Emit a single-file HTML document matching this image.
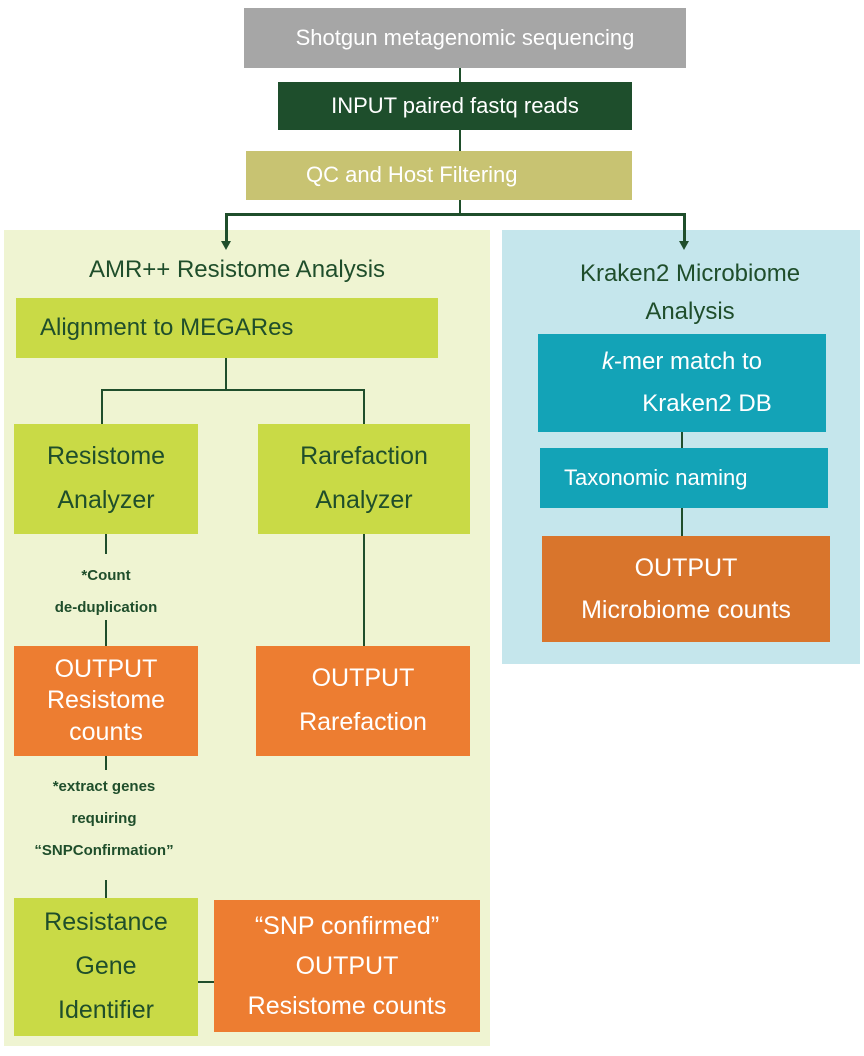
<!DOCTYPE html>
<html><head><meta charset="utf-8"><style>
body{margin:0;width:864px;height:1056px;background:#fff;position:relative;font-family:"Liberation Sans",sans-serif;overflow:hidden}
.b{position:absolute;box-sizing:border-box;display:flex;flex-direction:column;justify-content:center;align-items:center;text-align:center;color:#fff;line-height:1.3}
.l{position:absolute;background:#1f4e2b}
.t{position:absolute;color:#1f4e2b;text-align:center}
.s{position:absolute;color:#1f4e2b;font-weight:bold;font-size:15px;text-align:center}
</style></head><body>
<div style="position:absolute;left:4px;top:230px;width:486px;height:816px;background:#eff4d2"></div>
<div style="position:absolute;left:502px;top:230px;width:358px;height:434px;background:#c5e6ec"></div>

<div class="b" style="left:244px;top:8px;width:442px;height:60px;background:#a6a6a6;font-size:22px">Shotgun metagenomic sequencing</div>
<div class="b" style="left:278px;top:82px;width:354px;height:48px;background:#1e4e2c;font-size:22px">INPUT paired fastq reads</div>
<div class="b" style="left:246px;top:151px;width:386px;height:49px;background:#c8c372;font-size:22px;align-items:flex-start;padding-left:60px">QC and Host Filtering</div>
<div class="l" style="left:459px;top:68px;width:2px;height:14px"></div>
<div class="l" style="left:459px;top:130px;width:2px;height:21px"></div>
<div class="l" style="left:459px;top:200px;width:2px;height:14px"></div>
<div class="l" style="left:225px;top:213px;width:461px;height:3px"></div>
<div class="l" style="left:225px;top:213px;width:3px;height:30px"></div>
<div class="l" style="left:683px;top:213px;width:3px;height:30px"></div>
<div style="position:absolute;left:221px;top:241px;border-left:5px solid transparent;border-right:5px solid transparent;border-top:9px solid #1f4e2b"></div>
<div style="position:absolute;left:679px;top:241px;border-left:5px solid transparent;border-right:5px solid transparent;border-top:9px solid #1f4e2b"></div>

<div class="t" style="left:40px;top:256px;width:394px;font-size:24px">AMR++ Resistome Analysis</div>
<div class="b" style="left:16px;top:298px;width:422px;height:60px;background:#c9da46;color:#1f4e2b;font-size:24px;align-items:flex-start;padding-left:24px">Alignment to MEGARes</div>
<div class="l" style="left:225px;top:358px;width:2px;height:32px"></div>
<div class="l" style="left:101px;top:389px;width:264px;height:2px"></div>
<div class="l" style="left:101px;top:389px;width:2px;height:35px"></div>
<div class="l" style="left:363px;top:389px;width:2px;height:35px"></div>
<div class="b" style="left:14px;top:424px;width:184px;height:110px;background:#c9da46;color:#1f4e2b;font-size:25px;line-height:1.75">Resistome<br>Analyzer</div>
<div class="b" style="left:258px;top:424px;width:212px;height:110px;background:#c9da46;color:#1f4e2b;font-size:25px;line-height:1.75">Rarefaction<br>Analyzer</div>
<div class="l" style="left:105px;top:534px;width:2px;height:20px"></div>
<div class="s" style="left:14px;top:560px;width:184px;line-height:32px">*Count<br>de-duplication</div>
<div class="l" style="left:105px;top:620px;width:2px;height:26px"></div>
<div class="l" style="left:363px;top:534px;width:2px;height:112px"></div>
<div class="b" style="left:14px;top:646px;width:184px;height:110px;background:#ed7d31;font-size:25px;line-height:1.25">OUTPUT<br>Resistome<br>counts</div>
<div class="b" style="left:256px;top:646px;width:214px;height:110px;background:#ed7d31;font-size:25px;line-height:1.75">OUTPUT<br>Rarefaction</div>
<div class="l" style="left:105px;top:756px;width:2px;height:14px"></div>
<div class="s" style="left:4px;top:771px;width:200px;line-height:32px">*extract genes<br>requiring<br>“SNPConfirmation”</div>
<div class="l" style="left:105px;top:880px;width:2px;height:18px"></div>
<div class="b" style="left:14px;top:898px;width:184px;height:138px;background:#c9da46;color:#1f4e2b;font-size:25px;line-height:1.75">Resistance<br>Gene<br>Identifier</div>
<div class="l" style="left:198px;top:981px;width:16px;height:2px"></div>
<div class="b" style="left:214px;top:900px;width:266px;height:132px;background:#ed7d31;font-size:25px;line-height:1.6">“SNP confirmed”<br>OUTPUT<br>Resistome counts</div>

<div class="t" style="left:502px;top:255px;width:376px;font-size:24px;line-height:38px">Kraken2 Microbiome<br>Analysis</div>
<div class="b" style="left:538px;top:334px;width:288px;height:98px;background:#13a3b7;font-size:24px;line-height:1.75"><div><i>k</i>-mer match to</div><div style="padding-left:50px">Kraken2 DB</div></div>
<div class="l" style="left:681px;top:432px;width:2px;height:16px"></div>
<div class="b" style="left:540px;top:448px;width:288px;height:60px;background:#13a3b7;font-size:22px;align-items:flex-start;padding-left:24px">Taxonomic naming</div>
<div class="l" style="left:681px;top:508px;width:2px;height:28px"></div>
<div class="b" style="left:542px;top:536px;width:288px;height:106px;background:#d9752c;font-size:25px;line-height:1.7">OUTPUT<br>Microbiome counts</div>
</body></html>
